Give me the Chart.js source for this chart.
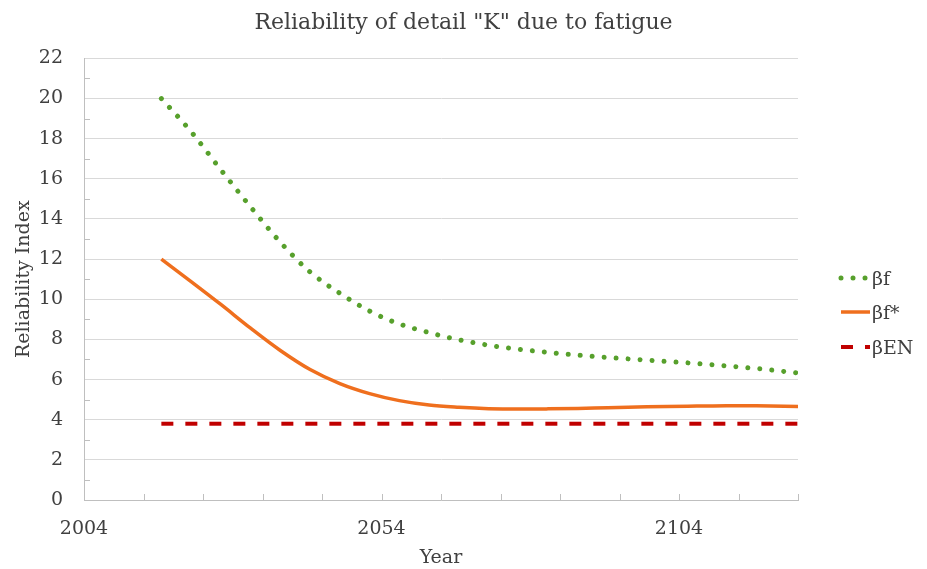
<!DOCTYPE html>
<html>
<head>
<meta charset="utf-8">
<script src="https://cdn.jsdelivr.net/npm/chart.js@4/dist/chart.umd.min.js"></script>
<style>
  html, body { margin: 0; padding: 0; background: #ffffff; }
  #wrap { width: 927px; height: 569px; }
</style>
</head>
<body>
<div id="wrap"><canvas id="c" width="927" height="569"></canvas></div>
<script>
// ---- Data ----
const chartTitle = 'Reliability of detail "K" due to fatigue';
const xTitle = 'Year';
const yTitle = 'Reliability Index';
const seriesNames = ['βf', 'βf*', 'βEN'];

const years = [2017, 2022, 2027, 2032, 2037, 2042, 2047, 2052, 2057, 2062, 2067,
               2072, 2077, 2082, 2087, 2092, 2097, 2102, 2107, 2112, 2117, 2124];
const betaF = [20.0, 18.35, 16.45, 14.6, 12.84, 11.36, 10.3, 9.41, 8.77, 8.34, 7.98,
               7.71, 7.51, 7.35, 7.22, 7.1, 7.0, 6.9, 6.8, 6.68, 6.55, 6.33];
const betaFStar = [12.0, 10.88, 9.74, 8.56, 7.45, 6.5, 5.8, 5.3, 4.95, 4.73, 4.62,
                   4.55, 4.53, 4.54, 4.56, 4.6, 4.63, 4.66, 4.68, 4.7, 4.69, 4.66];
const enYears = [2017, 2124];
const betaEN = [3.8, 3.8];

const xMin = 2004, xMax = 2124, xStep = 10, xLabelEvery = 50;
const yMin = 0, yMax = 22;

function pts(xs, ys) { return xs.map((x, i) => ({ x: x, y: ys[i] })); }

const FONT = "'DejaVu Serif', serif";
const TEXT = '#404040';

const innerTicks = {
  id: 'innerTicks',
  afterDatasetsDraw(chart) {
    const ctx = chart.ctx, xs = chart.scales.x, ys = chart.scales.y, a = chart.chartArea;
    ctx.save();
    ctx.strokeStyle = '#BFBFBF';
    ctx.lineWidth = 1;
    ctx.beginPath();
    for (let v = xMin + xStep; v <= xMax; v += xStep) {
      const px = Math.round(xs.getPixelForValue(v)) + 0.5;
      ctx.moveTo(px, a.bottom);
      ctx.lineTo(px, a.bottom - 6);
    }
    for (let v = yMin + 1; v < yMax; v += 2) {
      const py = Math.round(ys.getPixelForValue(v)) + 0.5;
      ctx.moveTo(a.left, py);
      ctx.lineTo(a.left + 6, py);
    }
    ctx.stroke();
    ctx.restore();
  }
};

const customLegend = {
  id: 'customLegend',
  afterDraw(chart) {
    const ctx = chart.ctx, a = chart.chartArea;
    const x0 = a.right + 43, x1 = a.right + 72, tx = a.right + 74;
    const rows = [278, 312, 347];
    ctx.save();
    chart.data.datasets.forEach((ds, i) => {
      const y = rows[i];
      ctx.save();
      ctx.strokeStyle = ds.borderColor;
      ctx.lineWidth = ds.borderWidth;
      ctx.lineCap = ds.borderCapStyle || 'butt';
      ctx.setLineDash(ds.borderDash || []);
      ctx.beginPath();
      ctx.moveTo(x0, y);
      ctx.lineTo(x1, y);
      ctx.stroke();
      ctx.restore();
      ctx.fillStyle = TEXT;
      ctx.font = "19px " + FONT;
      ctx.textBaseline = 'middle';
      ctx.textAlign = 'left';
      ctx.fillText(ds.label, tx, y + 2);
    });
    ctx.restore();
  }
};

new Chart(document.getElementById('c'), {
  type: 'line',
  data: {
    datasets: [
      {
        label: seriesNames[0], data: pts(years, betaF),
        borderColor: '#57A02C', borderWidth: 5, borderDash: [0.01, 12],
        borderCapStyle: 'round', pointRadius: 0, cubicInterpolationMode: 'monotone', fill: false
      },
      {
        label: seriesNames[1], data: pts(years, betaFStar),
        borderColor: '#EF6F1E', borderWidth: 3.5, borderCapStyle: 'butt',
        pointRadius: 0, cubicInterpolationMode: 'monotone', fill: false
      },
      {
        label: seriesNames[2], data: pts(enYears, betaEN),
        borderColor: '#C00000', borderWidth: 4, borderDash: [12, 12],
        borderCapStyle: 'butt', pointRadius: 0, fill: false
      }
    ]
  },
  options: {
    responsive: false,
    animation: false,
    layout: { padding: { left: 0, right: 0, top: 0, bottom: 0 } },
    plugins: {
      legend: { display: false },
      tooltip: { enabled: false },
      title: {
        display: true, text: chartTitle, color: TEXT,
        font: { family: FONT, size: 22, weight: 'normal' },
        padding: { top: 10, bottom: 22 }
      }
    },
    scales: {
      x: {
        type: 'linear', min: xMin, max: xMax,
        afterFit(s) { s.height = 69; },
        grid: { drawOnChartArea: false, drawTicks: false },
        border: { display: true, color: '#BFBFBF', width: 1 },
        ticks: {
          stepSize: xStep, color: TEXT, padding: 18, maxRotation: 0, autoSkip: false,
          font: { family: FONT, size: 19 },
          callback: v => ((v - xMin) % xLabelEvery === 0 ? String(v) : '')
        },
        title: { display: true, text: xTitle, color: TEXT, font: { family: FONT, size: 19 }, padding: { top: 0, bottom: 0 } }
      },
      y: {
        min: yMin, max: yMax,
        afterFit(s) { s.width = 84; },
        grid: {
          drawTicks: false,
          color: c => (c.tick && c.tick.value % 2 === 0 ? '#D9D9D9' : 'rgba(0,0,0,0)')
        },
        border: { display: true, color: '#BFBFBF', width: 1 },
        ticks: {
          stepSize: 1, color: TEXT, padding: 21, autoSkip: false,
          font: { family: FONT, size: 19 },
          callback: v => (v % 2 === 0 ? String(v) : '')
        },
        title: { display: true, text: yTitle, color: TEXT, font: { family: FONT, size: 19 }, padding: { top: 13, bottom: 0 } }
      },
      legendSpace: {
        type: 'linear', position: 'right', min: 0, max: 1,
        afterFit(s) { s.width = 129; },
        grid: { display: false, drawOnChartArea: false, drawTicks: false },
        border: { display: false },
        ticks: { display: false },
        title: { display: false }
      }
    }
  },
  plugins: [innerTicks, customLegend]
});
</script>
</body>
</html>
